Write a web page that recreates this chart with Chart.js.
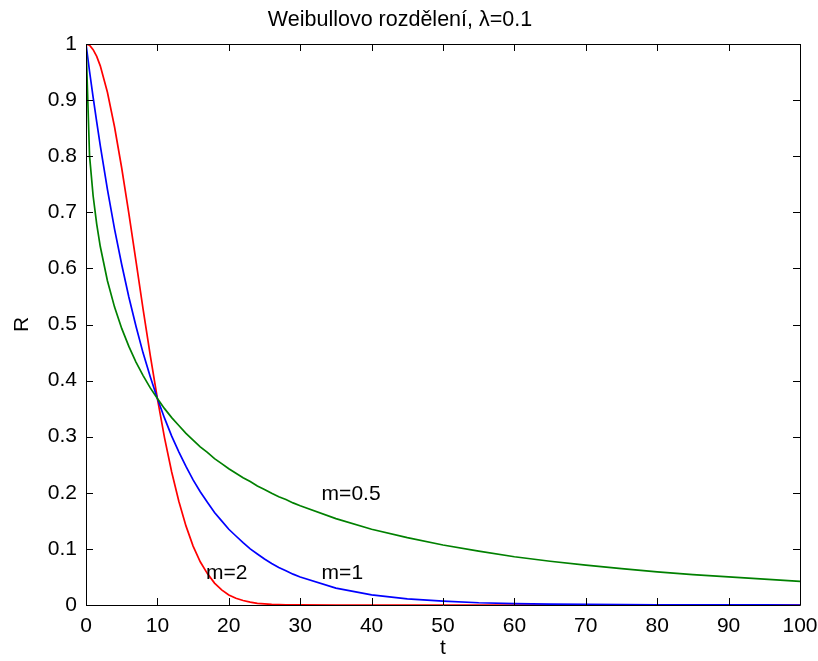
<!DOCTYPE html>
<html>
<head>
<meta charset="utf-8">
<script src="https://cdn.jsdelivr.net/npm/chart.js@4"></script>
<style>
  html, body { margin: 0; padding: 0; background: #fff; }
  canvas { display: block; }
</style>
</head>
<body>
<canvas id="weibullChart" width="818" height="661"></canvas>
<script>
// cas t a hodnoty spolehlivosti R
const casT = [0, 0.5, 1, 1.5, 2, 3, 4, 5, 6, 7, 8, 9, 10, 11, 12, 13, 14, 15, 16, 17, 18, 19, 20,
  21, 22, 23, 24, 25, 26, 27, 28, 29, 30, 35, 40, 45, 50, 55, 60, 65, 70, 75, 80, 85, 90, 95, 100];

const rM05 = [1, 0.800, 0.729, 0.679, 0.639, 0.578, 0.531, 0.493, 0.461, 0.433, 0.409, 0.387, 0.368,
  0.350, 0.334, 0.320, 0.306, 0.294, 0.282, 0.272, 0.261, 0.252, 0.243, 0.235, 0.227, 0.220, 0.212,
  0.206, 0.199, 0.193, 0.188, 0.182, 0.177, 0.154, 0.135, 0.120, 0.107, 0.096, 0.086, 0.078, 0.071,
  0.065, 0.059, 0.054, 0.050, 0.046, 0.042];

const rM1 = [1, 0.951, 0.905, 0.861, 0.819, 0.741, 0.670, 0.607, 0.549, 0.497, 0.449, 0.407, 0.368,
  0.333, 0.301, 0.273, 0.247, 0.223, 0.202, 0.183, 0.165, 0.150, 0.135, 0.123, 0.111, 0.100, 0.091,
  0.082, 0.074, 0.067, 0.061, 0.055, 0.050, 0.030, 0.018, 0.011, 0.007, 0.004, 0.0025, 0.0015, 0.001,
  0.0006, 0.0003, 0.0002, 0.0001, 0.0001, 0];

const rM2 = [1, 0.998, 0.990, 0.978, 0.961, 0.914, 0.852, 0.779, 0.698, 0.613, 0.527, 0.445, 0.368,
  0.298, 0.237, 0.185, 0.141, 0.105, 0.077, 0.056, 0.039, 0.027, 0.018, 0.012, 0.008, 0.005, 0.003,
  0.002, 0.001, 0.0007, 0.0004, 0.0002, 0.0001, 0, 0, 0, 0, 0, 0, 0, 0, 0, 0, 0, 0, 0, 0];

const xTicks = [0, 10, 20, 30, 40, 50, 60, 70, 80, 90, 100];
const yTicks = [0, 0.1, 0.2, 0.3, 0.4, 0.5, 0.6, 0.7, 0.8, 0.9, 1];
const yTickLabels = ['0', '0.1', '0.2', '0.3', '0.4', '0.5', '0.6', '0.7', '0.8', '0.9', '1'];

// popisky krivek (v souradnicich grafu)
const curveLabels = [
  { text: 'm=0.5', t: 33, r: 0.198 },
  { text: 'm=2', t: 16.8, r: 0.057 },
  { text: 'm=1', t: 33, r: 0.057 }
];

const FONT = "'Liberation Sans', Arial, sans-serif";

function toPoints(ys) {
  return casT.map((t, i) => ({ x: t, y: ys[i] }));
}

// tiky dovnitr na vsech ctyrech stranach + ramecek (styl MATLAB)
const boxPlugin = {
  id: 'boxTicks',
  afterDraw(chart) {
    const { ctx, chartArea: a, scales: { x, y } } = chart;
    const len = 7;
    ctx.save();
    ctx.strokeStyle = '#000';
    ctx.lineWidth = 1;
    ctx.beginPath();
    ctx.rect(a.left + 0.5, a.top + 0.5, a.right - a.left, a.bottom - a.top);
    xTicks.forEach(v => {
      const px = Math.round(x.getPixelForValue(v)) + 0.5;
      ctx.moveTo(px, a.bottom); ctx.lineTo(px, a.bottom - len);
      ctx.moveTo(px, a.top); ctx.lineTo(px, a.top + len);
    });
    yTicks.forEach(v => {
      const py = Math.round(y.getPixelForValue(v)) + 0.5;
      ctx.moveTo(a.left, py); ctx.lineTo(a.left + len, py);
      ctx.moveTo(a.right, py); ctx.lineTo(a.right - len, py);
    });
    ctx.stroke();

    ctx.fillStyle = '#000';
    ctx.font = '21px ' + FONT;
    ctx.textAlign = 'left';
    ctx.textBaseline = 'middle';
    curveLabels.forEach(l => {
      ctx.fillText(l.text, x.getPixelForValue(l.t), y.getPixelForValue(l.r));
    });
    ctx.restore();
  }
};

const ctx = document.getElementById('weibullChart').getContext('2d');
const chart = new Chart(ctx, {
  type: 'line',
  data: {
    datasets: [
      { label: 'm=0.5', data: toPoints(rM05), borderColor: '#008000' },
      { label: 'm=1', data: toPoints(rM1), borderColor: '#0000ff' },
      { label: 'm=2', data: toPoints(rM2), borderColor: '#ff0000' }
    ]
  },
  options: {
    responsive: false,
    animation: false,
    devicePixelRatio: 1,
    layout: { padding: { left: 0, right: 18, top: 0, bottom: 0 } },
    elements: {
      point: { radius: 0 },
      line: { borderWidth: 1.7, tension: 0, fill: false }
    },
    plugins: {
      legend: { display: false },
      tooltip: { enabled: false },
      title: {
        display: true,
        text: 'Weibullovo rozdělení, λ=0.1',
        color: '#000',
        font: { family: FONT, size: 21.5, weight: 'normal', lineHeight: 1.2 },
        padding: { top: 7, bottom: 11.2 }
      }
    },
    scales: {
      x: {
        type: 'linear',
        min: 0,
        max: 100,
        afterFit: s => { s.height = 56; s.paddingLeft = 0; s.paddingRight = 0; },
        afterBuildTicks: s => { s.ticks = xTicks.map(v => ({ value: v })); },
        grid: { display: false, drawTicks: false },
        border: { display: false },
        ticks: { color: '#000', padding: 9, maxRotation: 0, font: { family: FONT, size: 21 } },
        title: { display: true, text: 't', color: '#000', padding: { top: 0, bottom: 0 }, font: { family: FONT, size: 21 } }
      },
      y: {
        type: 'linear',
        min: 0,
        max: 1,
        afterFit: s => { s.width = 86; s.paddingTop = 0; s.paddingBottom = 0; },
        afterBuildTicks: s => { s.ticks = yTicks.map(v => ({ value: v })); },
        grid: { display: false, drawTicks: false },
        border: { display: false },
        ticks: {
          color: '#000',
          padding: 9,
          font: { family: FONT, size: 21 },
          callback: (v, i) => yTickLabels[i]
        },
        title: { display: true, text: 'R', color: '#000', padding: { top: 10, bottom: 0 }, font: { family: FONT, size: 21 } }
      }
    }
  },
  plugins: [boxPlugin]
});
</script>
</body>
</html>
